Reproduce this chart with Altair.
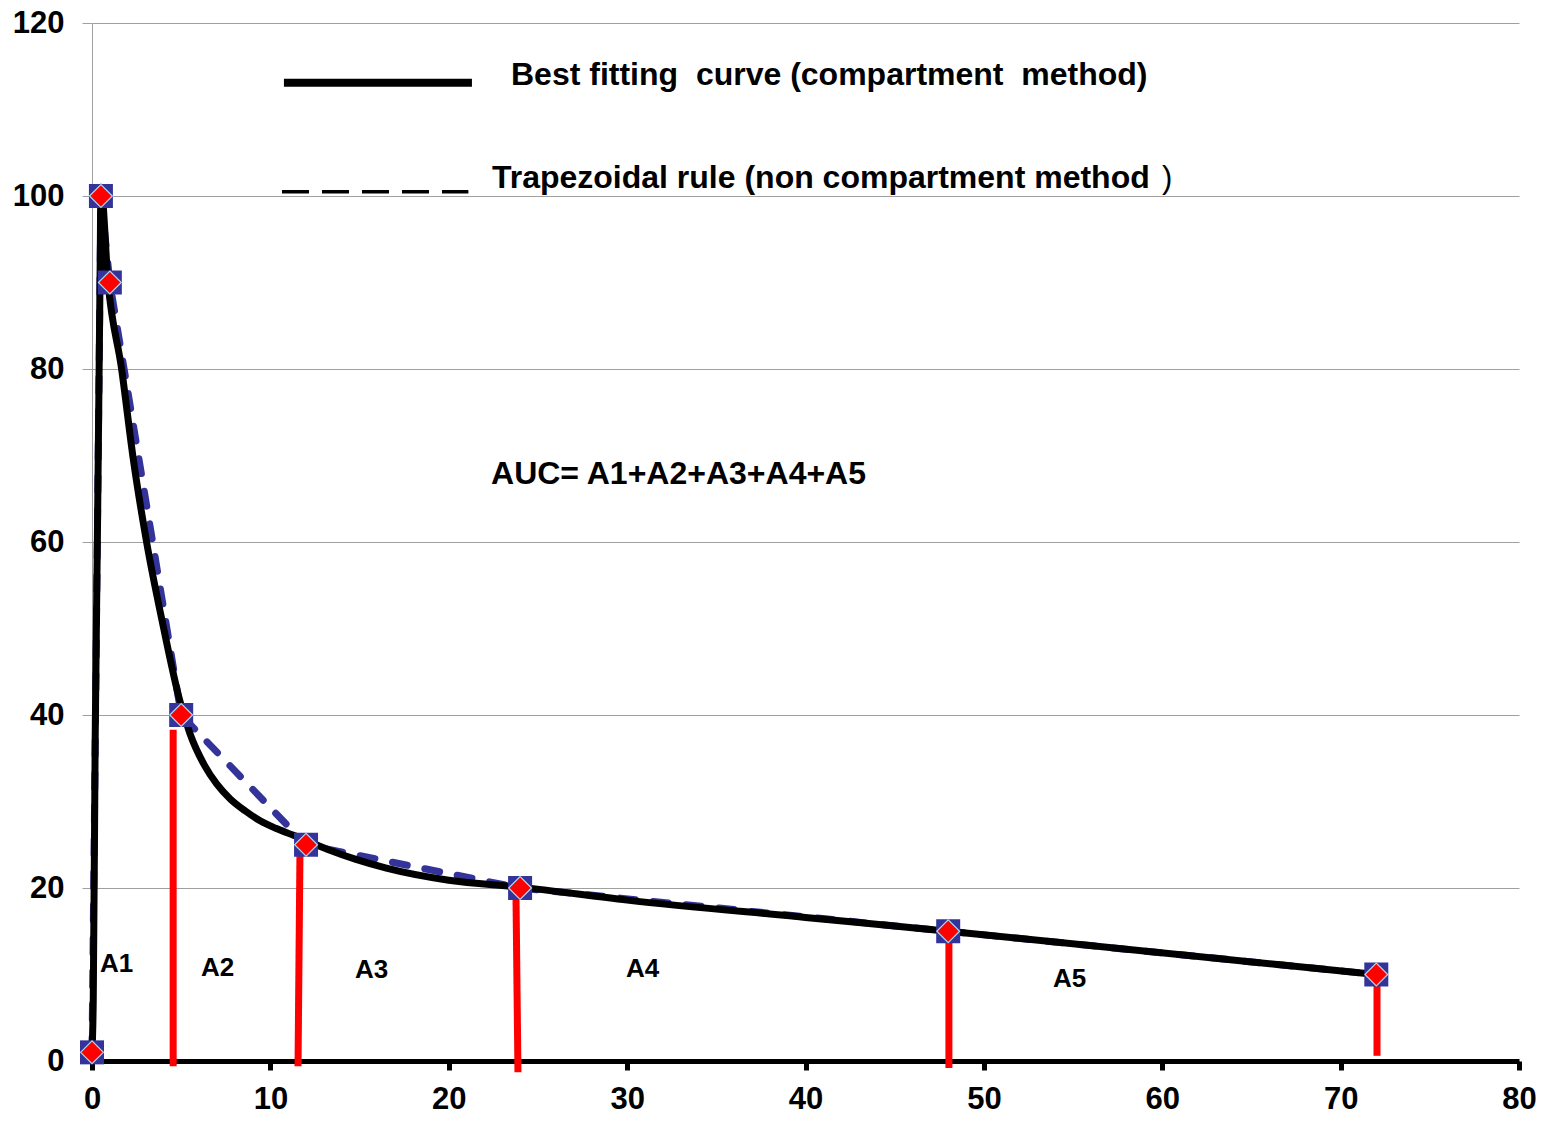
import altair as alt
import pandas as pd

FONT = "Liberation Sans"

# observed concentrations (trapezoidal rule passes through these)
obs_t = [0, 0.5, 1, 5, 12, 24, 48, 72]
obs_c = [1, 100, 90, 40, 25, 20, 15, 10]

# best fitting curve
fit_t = [0, 0.07, 0.18, 0.3, 0.4, 0.46, 0.5, 0.9, 1.66, 2.32, 3.06, 4.0, 4.93,
         5.5, 6.3, 7.0, 7.75, 8.6, 9.4, 10.3, 11.3, 12.0, 13.3, 14.8, 16.5, 20, 24, 30, 40, 48, 72]
fit_c = [1, 7, 37.5, 60, 80, 92.6, 101, 90, 80, 69.5, 60, 50.2, 41.6,
         37.8, 34.2, 32.0, 30.3, 28.9, 27.8, 26.9, 26.1, 25.5, 24.4, 23.3, 22.3, 20.9, 20.1, 18.6, 16.6, 15, 10]

# red vertical separators
red_x_top = [4.55, 11.66, 23.77, 48.04, 72.04]
red_x_bot = [4.55, 11.55, 23.88, 48.04, 72.04]
red_top = [38.3, 24.4, 19.0, 14.0, 8.8]
red_bot = [-0.6, -0.6, -1.3, -0.8, 0.6]

# area labels
area_labels = ["A1", "A2", "A3", "A4", "A5"]
area_x = [0.45, 6.11, 14.74, 29.94, 53.87]
area_y = [10.3, 9.8, 9.6, 9.7, 8.55]

# annotation texts
note_text = ["Best fitting\u00a0 curve (compartment\u00a0 method)",
             "Trapezoidal rule (non compartment method",
             "AUC= A1+A2+A3+A4+A5"]
note_x = [23.49, 22.42, 22.37]
note_y = [112.8, 100.9, 66.7]
paren_text = [")"]
paren_x = [59.98]
paren_y = [100.9]

# legend samples
leg_solid_x = [10.76]
leg_solid_x2 = [21.30]
leg_solid_y = [113.1]
leg_dash_x = [10.65]
leg_dash_x2 = [21.10]
leg_dash_y = [100.5]

x_ticks = [0, 10, 20, 30, 40, 50, 60, 70, 80]
y_ticks = [0, 20, 40, 60, 80, 100, 120]

xscale = alt.Scale(domain=[0, 80], nice=False, zero=False)
yscale = alt.Scale(domain=[0, 120], nice=False, zero=False)

xaxis = alt.Axis(values=x_ticks, grid=False, title=None, domainColor="black", domainWidth=5,
                 tickColor="black", tickWidth=5, tickSize=9, labelFont=FONT, labelFontSize=31,
                 labelFontWeight="bold", labelColor="black", labelPadding=14,
                 labelFlush=False, labelOverlap=False)
yaxis = alt.Axis(values=y_ticks, grid=True, title=None, gridColor="#a0a0a0", gridWidth=1,
                 domainColor="#a0a0a0", domainWidth=1, tickColor="#a0a0a0", tickWidth=1,
                 tickSize=10, labelFont=FONT, labelFontSize=31, labelFontWeight="bold",
                 labelColor="black", labelPadding=18, labelOverlap=False, labelFlush=False)


def X(f):
    return alt.X(f, type="quantitative", scale=xscale, axis=xaxis)


def Y(f):
    return alt.Y(f, type="quantitative", scale=yscale, axis=yaxis)


obs = pd.DataFrame({"t": obs_t, "c": obs_c})
fit = pd.DataFrame({"t": fit_t, "c": fit_c})
red = pd.DataFrame({"x": red_x_top, "x2": red_x_bot, "y": red_top, "y2": red_bot})
areas = pd.DataFrame({"label": area_labels, "x": area_x, "y": area_y})
notes = pd.DataFrame({"label": note_text, "x": note_x, "y": note_y})
paren = pd.DataFrame({"label": paren_text, "x": paren_x, "y": paren_y})
leg_solid = pd.DataFrame({"x": leg_solid_x, "x2": leg_solid_x2, "y": leg_solid_y})
leg_dash = pd.DataFrame({"x": leg_dash_x, "x2": leg_dash_x2, "y": leg_dash_y})

red_layer = alt.Chart(red).mark_rule(color="#ff0000", strokeWidth=7, strokeCap="butt").encode(
    x=X("x"), x2="x2", y=Y("y"), y2="y2")

dash_layer = alt.Chart(obs).mark_line(color="#333399", strokeWidth=7, strokeDash=[15, 18],
                                      strokeCap="round", interpolate="linear").encode(
    x=X("t"), y=Y("c"))

fit_layer = alt.Chart(fit).mark_line(color="black", strokeWidth=7, interpolate="monotone",
                                     strokeJoin="round", strokeCap="round").encode(
    x=X("t"), y=Y("c"))

sq_layer = alt.Chart(obs).mark_square(size=576, color="#333399", opacity=1, filled=True).encode(
    x=X("t"), y=Y("c"))

dia_layer = alt.Chart(obs).mark_point(shape="diamond", size=520, filled=True, fill="#ff0000",
                                      stroke="#a8d8f0", strokeWidth=1.2, opacity=1).encode(
    x=X("t"), y=Y("c"))

area_layer = alt.Chart(areas).mark_text(align="left", baseline="alphabetic", font=FONT,
                                        fontSize=26, fontWeight="bold", color="black").encode(
    x=X("x"), y=Y("y"), text="label")

note_layer = alt.Chart(notes).mark_text(align="left", baseline="alphabetic", font=FONT,
                                        fontSize=32, fontWeight="bold", color="black").encode(
    x=X("x"), y=Y("y"), text="label")

paren_layer = alt.Chart(paren).mark_text(align="left", baseline="alphabetic", font=FONT,
                                         fontSize=31, fontWeight="normal", color="black").encode(
    x=X("x"), y=Y("y"), text="label")

leg_solid_layer = alt.Chart(leg_solid).mark_rule(color="black", strokeWidth=8, strokeCap="butt").encode(
    x=X("x"), x2="x2", y=Y("y"))

leg_dash_layer = alt.Chart(leg_dash).mark_rule(color="black", strokeWidth=3.5, strokeCap="butt",
                                               strokeDash=[27, 13]).encode(
    x=X("x"), x2="x2", y=Y("y"))

chart = alt.layer(
    red_layer, dash_layer, fit_layer, sq_layer, dia_layer,
    area_layer, note_layer, paren_layer, leg_solid_layer, leg_dash_layer
).properties(
    width=1427, height=1038,
    autosize=alt.AutoSizeParams(type="none"),
    padding={"left": 84, "top": 15, "right": 22, "bottom": 55},
    background="white",
).configure_view(stroke=None)

chart.save("out.html", embed_options={"renderer": "svg", "actions": False})
